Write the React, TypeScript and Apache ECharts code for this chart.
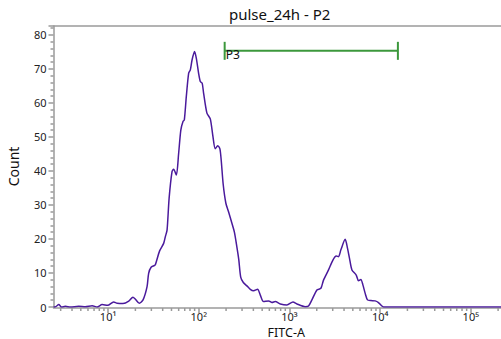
import React, { useEffect, useRef } from "react";
import * as echarts from "echarts";

// Histogram: [FITC-A value, count]
const histogram: [number, number][] = [
  [2.5, 0], [2.6, 0], [2.86, 0.7], [3.06, 0], [3.38, 0.2], [3.84, 0], [4.74, 0.2], [5.62, 0.1],
  [6.67, 0.4], [7.57, 0], [8.59, 0.7], [9.9, 0.5], [11.5, 1.5], [12.6, 1.1], [14.6, 1.0],
  [16.9, 1.7], [18.8, 2.9], [20.0, 2.3], [22.1, 1.1], [24.3, 2.1], [26.9, 6], [28.0, 9.9],
  [29.8, 11.7], [32.4, 12.2], [33.2, 12.4], [37.0, 16.5], [41.0, 18.7], [42.8, 20.7],
  [44.7, 22.6], [47.1, 32], [50.7, 39.8], [52.8, 40.5], [56.6, 38.8], [60.0, 45.2],
  [63.4, 52], [67.0, 54.5], [69.3, 55], [72.9, 61.9], [77.3, 68.7], [80.7, 69.7],
  [84.3, 72.6], [89.8, 75.1], [94.0, 73.1], [99.6, 68.7], [104, 66.3], [109, 65.8],
  [113, 62.9], [123, 57], [134, 55.3], [143.5, 50], [152, 46.5], [162, 47.4], [171, 46.5],
  [177, 43], [186, 36], [199, 30.5], [213, 28], [232, 24.6], [247, 22], [262, 18],
  [276, 14], [290, 8.8], [310, 7.2], [340, 6.2], [370, 5.2], [402, 4.8], [445, 5.2],
  [477, 3.5], [518, 1.6], [589, 1.8], [642, 1.3], [698, 1.6], [793, 0.9], [938, 0.6],
  [1093, 1.5], [1210, 0.9], [1494, 0.1], [1623, 0.3], [1769, 2.1], [2009, 5], [2223, 5.5],
  [2375, 7.9], [2697, 10.9], [3015, 13.8], [3278, 15], [3476, 14.8], [3692, 16.8],
  [4118, 19.9], [4364, 17.3], [4594, 14.3], [4886, 10.9], [5450, 9.4], [5772, 7.7],
  [6135, 8.1], [6453, 6.5], [6843, 4], [7255, 2.1], [7909, 1.9], [8818, 1.8], [9590, 1.3],
  [10450, 0.3], [10880, 0], [340000, 0],
];

// Gate P3: [left, right, count level]
const gateName = "P3";
const gateRange: [number, number, number] = [193, 15700, 75.3];

const xMin = 2.5;
const xMax = 340000;
const yMax = 82.6;

const decades = [0, 1, 2, 3, 4, 5];
const minorMultipliers = [2, 3, 4, 5, 6, 7, 8, 9];
const minorTicks: number[] = [];
decades.forEach((d) =>
  minorMultipliers.forEach((m) => {
    const v = m * Math.pow(10, d);
    if (v > xMin && v < xMax) minorTicks.push(v);
  })
);

const SUP: Record<string, string> = { "0": "⁰", "1": "¹", "2": "²", "3": "³", "4": "⁴", "5": "⁵", "6": "⁶" };

const FONT = "Noto Sans";
const AXIS_GRAY = "#9a9a9a";

export default function App() {
  const ref = useRef<HTMLDivElement>(null);
  useEffect(() => {
    if (!ref.current) return;
    const chart = echarts.init(ref.current, undefined, { renderer: "svg" });
    chart.setOption({
      animation: false,
      title: {
        text: "pulse_24h - P2",
        left: 229,
        top: 6,
        padding: 0,
        textStyle: { fontFamily: FONT, fontSize: 15, fontWeight: "normal", color: "#111" },
      },
      grid: { left: 53.5, right: -18, top: 26, bottom: 32, outerBoundsMode: "none", containLabel: false },
      xAxis: [
        {
          type: "log",
          logBase: 10,
          min: xMin,
          max: xMax,
          offset: 1,
          name: "FITC-A",
          nameLocation: "middle",
          nameGap: 18,
          nameMoveOverlap: false,
          nameTextStyle: { fontFamily: FONT, fontSize: 12.5, color: "#111", verticalAlign: "top", lineHeight: 12 },
          axisLine: { show: true, onZero: false, lineStyle: { color: AXIS_GRAY, width: 1.5 } },
          axisTick: { show: true, length: 5, lineStyle: { color: AXIS_GRAY, width: 1.5 } },
          minorTick: { show: false },
          splitLine: { show: false },
          axisLabel: {
            show: true,
            margin: 3,
            lineHeight: 11,
            showMinLabel: false,
            showMaxLabel: false,
            fontFamily: FONT,
            fontSize: 11,
            color: "#222",
            formatter: (v: number) => {
              const e = Math.round(Math.log10(v));
              if (Math.abs(Math.log10(v) - e) > 1e-6) return "";
              return "10" + String(e).split("").map((c) => SUP[c]).join("");
            },
          },
        },
        {
          type: "value",
          position: "top",
          min: 0,
          max: 1,
          axisLine: { show: true, onZero: false, lineStyle: { color: AXIS_GRAY, width: 1.5 } },
          axisTick: { show: false },
          axisLabel: { show: false },
          splitLine: { show: false },
        },
      ],
      yAxis: {
        type: "value",
        min: 0,
        max: yMax,
        interval: 10,
        name: "Count",
        nameLocation: "middle",
        nameGap: 33,
        nameMoveOverlap: false,
        nameTextStyle: { fontFamily: FONT, fontSize: 14, color: "#111" },
        axisLine: { show: true, onZero: false, lineStyle: { color: AXIS_GRAY, width: 1.5 } },
        axisTick: { show: true, length: 5, lineStyle: { color: AXIS_GRAY, width: 1.5 } },
        minorTick: { show: true, splitNumber: 5, length: 3, lineStyle: { color: AXIS_GRAY, width: 1.5 } },
        splitLine: { show: false },
        minorSplitLine: { show: false },
        axisLabel: {
          margin: 7,
          showMaxLabel: false,
          fontFamily: FONT,
          fontSize: 11,
          color: "#222",
        },
      },
      series: [
        {
          type: "line",
          data: histogram,
          showSymbol: false,
          symbol: "none",
          smooth: 0.25,
          lineStyle: { color: "#4a1a9c", width: 1.5 },
          z: 5,
        },
        {
          type: "custom",
          coordinateSystem: "cartesian2d",
          data: minorTicks.map((v) => [v, 0]),
          silent: true,
          clip: false,
          renderItem: (params: any, api: any) => {
            const p = api.coord([api.value(0), 0]);
            return {
              type: "line",
              shape: { x1: p[0], y1: p[1] + 1, x2: p[0], y2: p[1] + 4 },
              style: { stroke: AXIS_GRAY, lineWidth: 1.5 },
            };
          },
          z: 1,
        },
        {
          type: "custom",
          coordinateSystem: "cartesian2d",
          data: [gateRange],
          silent: true,
          clip: false,
          renderItem: (params: any, api: any) => {
            const a = api.coord([api.value(0), api.value(2)]);
            const b = api.coord([api.value(1), api.value(2)]);
            const stroke = "#3c983c";
            return {
              type: "group",
              children: [
                { type: "line", shape: { x1: a[0], y1: a[1], x2: b[0], y2: b[1] }, style: { stroke, lineWidth: 2 } },
                { type: "line", shape: { x1: a[0], y1: a[1] - 9, x2: a[0], y2: a[1] + 9 }, style: { stroke, lineWidth: 2 } },
                { type: "line", shape: { x1: b[0], y1: b[1] - 9, x2: b[0], y2: b[1] + 9 }, style: { stroke, lineWidth: 2 } },
                {
                  type: "text",
                  x: a[0] + 1,
                  y: a[1] + 3.5,
                  style: {
                    text: gateName,
                    fill: "#111",
                    fontFamily: FONT,
                    fontSize: 12,
                    textAlign: "left",
                    textVerticalAlign: "middle",
                  },
                  z2: 10,
                },
              ],
            };
          },
          z: 6,
        },
      ],
    });
    return () => chart.dispose();
  }, []);
  return <div ref={ref} style={{ width: 501, height: 339, position: "absolute", left: 0, top: 0 }} />;
}
